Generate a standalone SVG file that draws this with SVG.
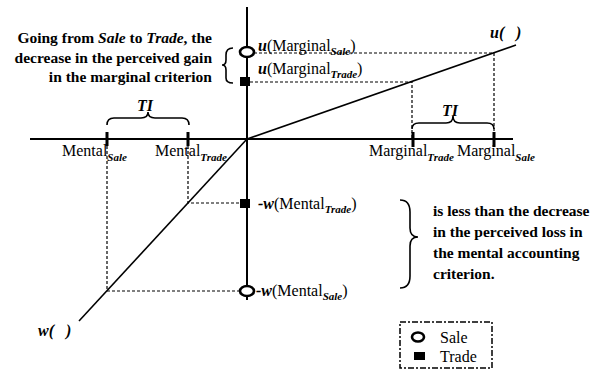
<svg xmlns="http://www.w3.org/2000/svg" width="600" height="371" viewBox="0 0 600 371">
<style>
.t{font-family:"Liberation Serif","Times New Roman",serif;font-size:16px;fill:#000}
.bi{font-weight:bold;font-style:italic}
.sub{font-size:11px;font-weight:bold;font-style:italic}
.ann{font-family:"Liberation Serif","Times New Roman",serif;font-size:15.5px;font-weight:bold;fill:#000}
.ax{stroke:#000;stroke-width:2;fill:none}
.ln{stroke:#000;stroke-width:1.6;fill:none}
.dash{stroke:#000;stroke-width:1.2;stroke-dasharray:3 2;fill:none}
.br{stroke:#000;stroke-width:1.6;fill:none}
.tick{fill:#000}
.circ{fill:#fff;stroke:#000;stroke-width:2.6}
.sq{fill:#000}
</style>
<rect width="600" height="371" fill="#fff"/>
<g id="axes">
<line class="ax" x1="247" y1="7" x2="247" y2="300"/>
<line class="ax" x1="30" y1="139" x2="513" y2="139"/>
<rect class="tick" x="105.5" y="132" width="3" height="14"/>
<rect class="tick" x="186.5" y="132" width="3" height="14"/>
<rect class="tick" x="411.5" y="132" width="3" height="15"/>
<rect class="tick" x="492.5" y="132" width="3" height="15"/>
</g>
<g id="connectors">
<line class="ln" x1="247" y1="139" x2="516" y2="45"/>
<line class="ln" x1="247" y1="139" x2="79" y2="321"/>
<polyline class="dash" points="254,53 494,53 494,139"/>
<polyline class="dash" points="250,82 412,82 412,139"/>
<polyline class="dash" points="188,146 188,203 240,203"/>
<polyline class="dash" points="107,146 107,291 240,291"/>
</g>
<g id="u-curve-label"><text class="t bi" x="490" y="38">u(</text><text class="t bi" x="516" y="38">)</text></g>
<g id="w-curve-label"><text class="t bi" x="38" y="336">w(</text><text class="t bi" x="66" y="336">)</text></g>
<g id="u-marginal-sale">
<ellipse class="circ" cx="247" cy="52" rx="7" ry="5"/>
<text class="t" x="258" y="51"><tspan class="bi">u</tspan>(Marginal<tspan class="sub" dy="4">Sale</tspan><tspan dy="-4">)</tspan></text>
</g>
<g id="u-marginal-trade">
<rect class="sq" x="240" y="77" width="10" height="9"/>
<text class="t" x="258" y="74"><tspan class="bi">u</tspan>(Marginal<tspan class="sub" dy="4">Trade</tspan><tspan dy="-4">)</tspan></text>
</g>
<g id="w-mental-trade">
<rect class="sq" x="240" y="199" width="10" height="9"/>
<text class="t" x="258" y="209"><tspan class="bi">-w</tspan>(Mental<tspan class="sub" dy="4">Trade</tspan><tspan dy="-4">)</tspan></text>
</g>
<g id="w-mental-sale">
<ellipse class="circ" cx="247" cy="291" rx="7" ry="5"/>
<text class="t" x="256" y="296"><tspan class="bi">-w</tspan>(Mental<tspan class="sub" dy="4">Sale</tspan><tspan dy="-4">)</tspan></text>
</g>
<g id="axis-labels">
<text class="t" x="62" y="156">Mental<tspan class="sub" dy="5">Sale</tspan></text>
<text class="t" x="155" y="156">Mental<tspan class="sub" dy="5">Trade</tspan></text>
<text class="t" x="369" y="156">Marginal<tspan class="sub" dy="5">Trade</tspan></text>
<text class="t" x="457" y="156">Marginal<tspan class="sub" dy="5">Sale</tspan></text>
</g>
<g id="ti-left">
<path class="br" d="M107,125 Q107,118 114,118 L141,118 Q148,118 148,112 Q148,118 155,118 L182,118 Q189,118 189,125"/>
<text class="t bi" x="145" y="111" text-anchor="middle">TI</text>
</g>
<g id="ti-right">
<path class="br" d="M412,129 Q412,123 419,123 L446,123 Q453,123 453,116 Q453,123 460,123 L487,123 Q494,123 494,129"/>
<text class="t bi" x="450" y="116" text-anchor="middle">TI</text>
</g>
<g id="note-gain">
<path class="br" d="M233,48 Q226,48 226,55 L226,60 Q226,65 222,65 Q226,65 226,70 L226,78 Q226,83 233,83"/>
<text class="ann" text-anchor="end" x="212" y="43">Going from <tspan font-style="italic">Sale</tspan> to <tspan font-style="italic">Trade</tspan>, the</text>
<text class="ann" text-anchor="end" x="212" y="63">decrease in the perceived gain</text>
<text class="ann" text-anchor="end" x="212" y="82">in the marginal criterion</text>
</g>
<g id="note-loss">
<path class="br" d="M400,200 Q410,200 410,212 L410,228 Q410,237 418,237 Q410,237 410,246 L410,276 Q410,288 400,288"/>
<text class="ann" x="433" y="216">is less than the decrease</text>
<text class="ann" x="433" y="237">in the perceived loss in</text>
<text class="ann" x="433" y="258">the mental accounting</text>
<text class="ann" x="433" y="279">criterion.</text>
</g>
<g id="legend">
<rect x="400" y="322" width="92" height="46" fill="none" stroke="#000" stroke-width="1.5" stroke-dasharray="6 2 2 2"/>
<ellipse class="circ" cx="418" cy="337" rx="6" ry="4.5"/>
<text class="t" x="440" y="343" font-size="15">Sale</text>
<rect class="sq" x="414" y="352" width="11" height="8"/>
<text class="t" x="440" y="362" font-size="15">Trade</text>
</g>
</svg>
